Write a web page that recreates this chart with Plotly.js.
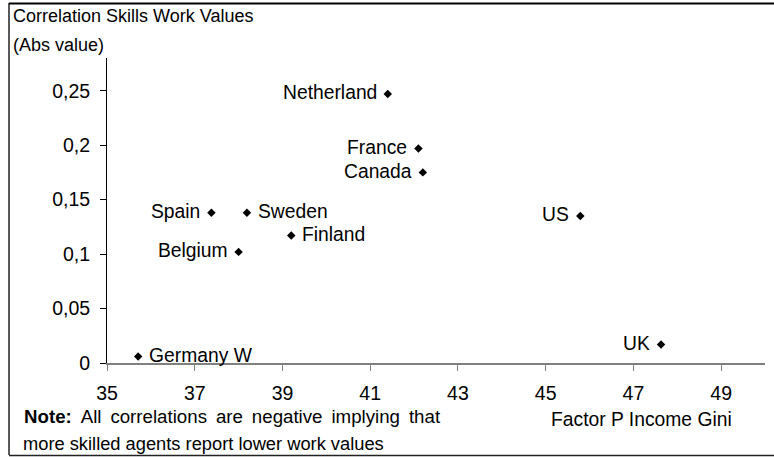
<!DOCTYPE html>
<html>
<head>
<meta charset="utf-8">
<script src="https://cdn.plot.ly/plotly-3.0.1.min.js"></script>
<style>
  html, body { margin: 0; padding: 0; background: #fff; }
  #chart { width: 774px; height: 457px; }
</style>
</head>
<body>
<div id="chart"></div>
<script>
// ---- Data ----
const countries = ["Netherland", "France", "Canada", "US", "Spain", "Sweden", "Finland", "Belgium", "Germany W", "UK"];
const giniValues = [41.40, 42.10, 42.20, 45.79, 37.38, 38.19, 39.20, 38.00, 35.71, 47.63];
const corrValues = [0.247, 0.197, 0.175, 0.135, 0.138, 0.138, 0.117, 0.102, 0.006, 0.017];
const rightLabeled = ["Sweden", "Finland", "Germany W"];
const xTickValues = [35, 37, 39, 41, 43, 45, 47, 49];
const yTickValues = [0, 0.05, 0.1, 0.15, 0.2, 0.25];

const titleLine1 = "Correlation Skills Work Values";
const titleLine2 = "(Abs value)";
const xTitle = "Factor P Income Gini";
const noteLine1Words = ["<b>Note:</b>", "All", "correlations", "are", "negative", "implying", "that"];
const noteLine2 = "more skilled agents report lower work values";

// ---- Layout helpers ----
const W = 774, H = 457;
const M = { l: 107, r: 9, t: 58, b: 94 };
const PW = W - M.l - M.r, PH = H - M.t - M.b;
const px = v => (v - M.l) / PW;
const py = v => (H - M.b - v) / PH;

const FONT = "Arial, 'Liberation Sans', sans-serif";
const FS_TITLE = 18;
const FS_TICK = 19.5;
const FS_LABEL = 19.3;

const trace = {
  type: "scatter",
  mode: "markers",
  x: giniValues,
  y: corrValues,
  marker: { symbol: "diamond", size: 6.5, color: "#000000", line: { width: 0 } },
  hoverinfo: "skip",
  showlegend: false
};

const labelAnns = countries.map((c, i) => {
  const right = rightLabeled.includes(c);
  return {
    x: giniValues[i], y: corrValues[i], xref: "x", yref: "y",
    text: c, showarrow: false,
    xanchor: right ? "left" : "right", yanchor: "middle",
    xshift: right ? 9 : -9, yshift: 1,
    font: { family: FONT, size: FS_LABEL, color: "#000" }
  };
});

const textAnn = (text, xpx, ypx, anchor, size) => ({
  x: px(xpx), y: py(ypx), xref: "paper", yref: "paper",
  text: text, showarrow: false, xanchor: anchor || "left", yanchor: "middle",
  font: { family: FONT, size: size || FS_TITLE, color: "#000" }
});

// first note line is justified in the original text box (slightly wider word gaps)
const noteLine1 = noteLine1Words.join(" \u2009");

const annotations = labelAnns.concat([
  textAnn(titleLine1, 11, 16),
  textAnn(titleLine2, 11, 45),
  textAnn(xTitle, 641, 420, "center", FS_LABEL),
  textAnn(noteLine1, 22, 416, "left", 18.7),
  textAnn(noteLine2, 21, 443, "left", 18.3)
]);

const frameColor = "#222";
const shapes = [
  { type: "line", xref: "paper", yref: "paper", x0: px(9), x1: px(9), y0: py(3), y1: py(455), line: { color: frameColor, width: 1.5 } },
  { type: "line", xref: "paper", yref: "paper", x0: px(9), x1: px(774), y0: py(3.5), y1: py(3.5), line: { color: "#000", width: 2 } },
  { type: "line", xref: "paper", yref: "paper", x0: px(9), x1: px(774), y0: py(455.5), y1: py(455.5), line: { color: frameColor, width: 1.5 } }
];

const layout = {
  width: W, height: H,
  margin: M,
  paper_bgcolor: "#fff", plot_bgcolor: "#fff",
  separators: ", ",
  font: { family: FONT, size: FS_TITLE, color: "#000" },
  showlegend: false,
  xaxis: {
    range: [35, 50],
    tickvals: xTickValues,
    ticktext: xTickValues.map(String),
    showgrid: false, zeroline: false,
    showline: true, linecolor: "#808080", linewidth: 2,
    ticks: "outside", ticklen: 6, tickwidth: 1, tickcolor: "#808080",
    tickfont: { family: FONT, size: FS_TICK, color: "#000" },
    ticklabelstandoff: 6,
    fixedrange: true
  },
  yaxis: {
    range: [0, 0.28],
    tickvals: yTickValues,
    showgrid: false, zeroline: false,
    showline: true, linecolor: "#000", linewidth: 1,
    ticks: "outside", ticklen: 6, tickwidth: 1, tickcolor: "#000",
    tickfont: { family: FONT, size: FS_TICK, color: "#000" },
    ticklabelstandoff: 6,
    fixedrange: true
  },
  annotations: annotations,
  shapes: shapes
};

Plotly.newPlot("chart", [trace], layout, { displayModeBar: false, staticPlot: true });
</script>
</body>
</html>
